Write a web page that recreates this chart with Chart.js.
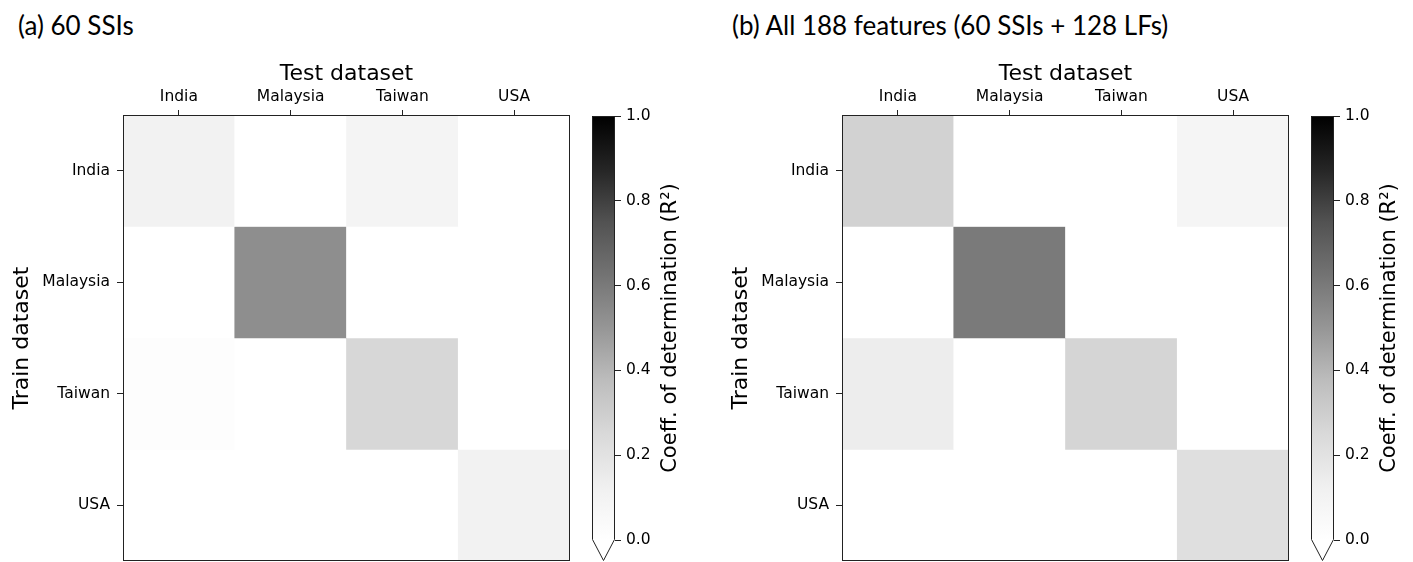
<!DOCTYPE html>
<html>
<head>
<meta charset="utf-8">
<title>R2 heatmaps</title>
<script src="https://cdn.jsdelivr.net/npm/chart.js@4.4.1/dist/chart.umd.min.js"></script>
<style>
    body { margin: 0; background: #fff; width: 1413px; height: 562px; position: relative; overflow: hidden; }
    canvas { position: absolute; top: 0; }
    .panel-title {
        position: absolute; top: 10px; line-height: 30px;
        font-family: Lato, "Open Sans", sans-serif; font-size: 26px; color: #000; white-space: nowrap;
    }
</style>
</head>
<body>
<div class="panel-title" style="left:18px">(a) 60 SSIs</div>
<div class="panel-title" style="left:732px">(b) All 188 features (60 SSIs + 128 LFs)</div>
<canvas id="heatA" width="580" height="562" style="left:0"></canvas>
<canvas id="cbarA" width="125" height="562" style="left:585px"></canvas>
<canvas id="heatB" width="580" height="562" style="left:719px"></canvas>
<canvas id="cbarB" width="109" height="562" style="left:1304px"></canvas>
<script>
// Data (white cells = R2 at or below 0)
const trainLabels = ['India', 'Malaysia', 'Taiwan', 'USA'];
const testLabels = ['India', 'Malaysia', 'Taiwan', 'USA'];
const cbarTicks = [0, 0.2, 0.4, 0.6, 0.8, 1.0];

// rows = train dataset, columns = test dataset
const ssiR2 = [
    [0.11, 0, 0.09, 0],
    [0, 0.53, 0, 0],
    [0.02, 0, 0.26, 0],
    [0, 0, 0, 0.11]
];
const allR2 = [
    [0.28, 0, 0, 0.08],
    [0, 0.60, 0, 0],
    [0.14, 0, 0.27, 0],
    [0, 0, 0, 0.22]
];

const FONT = 'DejaVu Sans';
const LINE = '#222';

// matplotlib "Greys" colormap stops
const greysStops = [255, 240, 217, 189, 150, 115, 82, 37, 0];

function greys(v) {
    const t = Math.max(0, Math.min(1, v)) * (greysStops.length - 1);
    const i = Math.min(Math.floor(t), greysStops.length - 2);
    const c = Math.round(greysStops[i] + (greysStops[i + 1] - greysStops[i]) * (t - i));
    return 'rgb(' + c + ',' + c + ',' + c + ')';
}

// Box around the plot area
const boxPlugin = {
    id: 'box',
    afterDraw(chart) {
        const a = chart.chartArea;
        const ctx = chart.ctx;
        ctx.save();
        ctx.strokeStyle = LINE;
        ctx.lineWidth = 1;
        ctx.strokeRect(Math.round(a.left) + 0.5, Math.round(a.top) + 0.5,
            Math.round(a.width) - 1, Math.round(a.height) - 1);
        ctx.restore();
    }
};

function initHeatmap(canvasId, values) {
    const canvas = document.getElementById(canvasId);
    return new Chart(canvas, {
        type: 'bar',
        data: {
            labels: testLabels,
            datasets: trainLabels.map((name, r) => ({
                label: name,
                data: testLabels.map(() => 1),
                backgroundColor: values[r].map(greys),
                borderWidth: 0,
                barPercentage: 1,
                categoryPercentage: 1
            }))
        },
        options: {
            responsive: false,
            animation: false,
            events: [],
            layout: { padding: { left: 0, right: 10, top: 0, bottom: 1 } },
            plugins: {
                legend: { display: false },
                tooltip: { enabled: false }
            },
            scales: {
                x: {
                    type: 'category',
                    position: 'top',
                    stacked: true,
                    offset: true,
                    grid: { offset: false, drawOnChartArea: false, tickLength: 5, color: LINE },
                    border: { display: false },
                    ticks: { padding: 4, maxRotation: 0, color: '#000', font: { family: FONT, size: 15.5 } },
                    title: {
                        display: true, text: 'Test dataset', color: '#000',
                        font: { family: FONT, size: 22 }, padding: { top: 61, bottom: 0 }
                    },
                    afterFit: s => { s.height = 115; s.paddingLeft = 0; s.paddingRight = 0; }
                },
                y: {
                    type: 'linear',
                    stacked: true,
                    min: 0,
                    max: 4,
                    reverse: true,
                    afterBuildTicks: s => { s.ticks = trainLabels.map((_, i) => ({ value: i + 0.5 })); },
                    grid: { drawOnChartArea: false, tickLength: 6, color: LINE },
                    border: { display: false },
                    ticks: {
                        padding: 7, color: '#000', font: { family: FONT, size: 15.5 },
                        callback: (v, i) => trainLabels[i]
                    },
                    title: {
                        display: true, text: 'Train dataset', color: '#000',
                        font: { family: FONT, size: 22 }, padding: { top: 9, bottom: 0 }
                    },
                    afterFit: s => { s.width = 123; s.paddingTop = 0; s.paddingBottom = 0; }
                }
            }
        },
        plugins: [boxPlugin]
    });
}

// Colorbar outline with the "extend min" triangle, plus its rotated label
const cbarPlugin = {
    id: 'cbarFrame',
    afterDraw(chart) {
        const a = chart.chartArea;
        const ctx = chart.ctx;
        const l = Math.round(a.left) + 0.5, r = Math.round(a.right) - 0.5;
        const t = Math.round(a.top) + 0.5, b = Math.round(a.bottom) - 0.5;
        ctx.save();
        ctx.beginPath();
        ctx.moveTo(l, b);
        ctx.lineTo(r, b);
        ctx.lineTo((l + r) / 2, b + 21);
        ctx.closePath();
        ctx.fillStyle = '#fff';
        ctx.fill();
        ctx.beginPath();
        ctx.moveTo(l, t);
        ctx.lineTo(r, t);
        ctx.lineTo(r, b);
        ctx.lineTo((l + r) / 2, b + 21);
        ctx.lineTo(l, b);
        ctx.closePath();
        ctx.strokeStyle = LINE;
        ctx.lineWidth = 1;
        ctx.stroke();

        ctx.translate(a.right + 55.5, (a.top + a.bottom) / 2);
        ctx.rotate(-Math.PI / 2);
        ctx.fillStyle = '#000';
        ctx.font = '21px "' + FONT + '"';
        ctx.textAlign = 'center';
        ctx.textBaseline = 'middle';
        ctx.fillText('Coeff. of determination (R\u00B2)', 0, 0);
        ctx.restore();
    }
};

function initColorbar(canvasId) {
    const canvas = document.getElementById(canvasId);
    return new Chart(canvas, {
        type: 'bar',
        data: {
            labels: [''],
            datasets: [{
                data: [[cbarTicks[0], cbarTicks[cbarTicks.length - 1]]],
                backgroundColor: (c) => {
                    const area = c.chart.chartArea;
                    if (!area) return '#888';
                    const g = c.chart.ctx.createLinearGradient(0, area.bottom, 0, area.top);
                    greysStops.forEach((_, i) => g.addColorStop(i / (greysStops.length - 1), greys(i / (greysStops.length - 1))));
                    return g;
                },
                borderWidth: 0,
                barPercentage: 1,
                categoryPercentage: 1
            }]
        },
        options: {
            responsive: false,
            animation: false,
            events: [],
            layout: { padding: { left: 7, right: 0, top: 116, bottom: 22 } },
            plugins: {
                legend: { display: false },
                tooltip: { enabled: false }
            },
            scales: {
                x: { display: false },
                y: {
                    position: 'right',
                    min: 0,
                    max: 1,
                    afterBuildTicks: s => { s.ticks = cbarTicks.map(v => ({ value: v })); },
                    grid: { drawOnChartArea: false, tickLength: 6, color: LINE },
                    border: { display: false },
                    ticks: {
                        padding: 5, color: '#000', font: { family: FONT, size: 15.5 },
                        callback: v => v.toFixed(1)
                    },
                    afterFit: s => { s.width = canvas.width - 30; s.paddingTop = 0; s.paddingBottom = 0; }
                }
            }
        },
        plugins: [cbarPlugin]
    });
}

initHeatmap('heatA', ssiR2);
initHeatmap('heatB', allR2);
initColorbar('cbarA');
initColorbar('cbarB');
</script>
</body>
</html>
